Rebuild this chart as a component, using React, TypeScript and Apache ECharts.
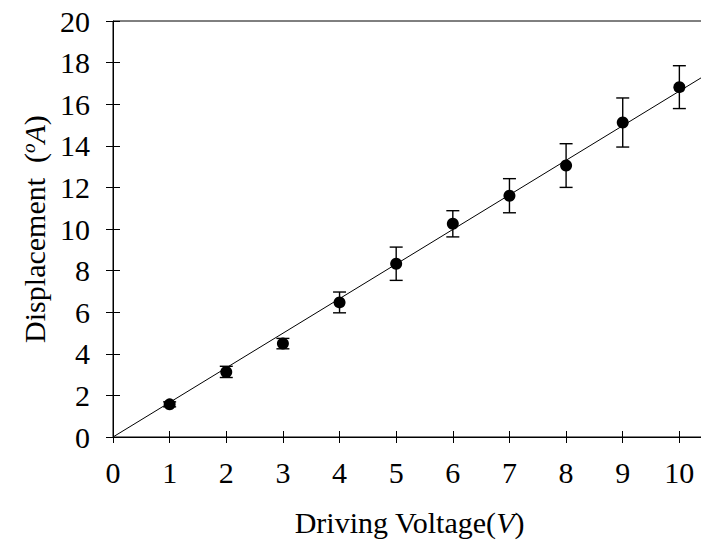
import React, { useEffect, useRef } from "react";
import * as echarts from "echarts";

const voltage = [1, 2, 3, 4, 5, 6, 7, 8, 9, 10];
const displacement = [1.57, 3.13, 4.49, 6.47, 8.33, 10.25, 11.6, 13.05, 15.12, 16.82];
const errorHalf = [0.12, 0.27, 0.25, 0.5, 0.8, 0.63, 0.82, 1.05, 1.18, 1.03];
const xTicks = [0, 1, 2, 3, 4, 5, 6, 7, 8, 9, 10];
const yTicks = [0, 2, 4, 6, 8, 10, 12, 14, 16, 18, 20];

const FONT = "Liberation Serif";
const X_MAX = 11;

export default function App() {
  const ref = useRef<HTMLDivElement>(null);

  useEffect(() => {
    if (!ref.current) return;
    const chart = echarts.init(ref.current, undefined, { renderer: "svg" });

    // least-squares fit through origin
    let sxy = 0, sxx = 0;
    voltage.forEach((x, i) => { sxy += x * displacement[i]; sxx += x * x; });
    const slope = sxy / sxx;
    const fitData = [[0, 0], [X_MAX, slope * X_MAX]];

    const scatterData = voltage.map((x, i) => [x, displacement[i]]);
    const errData = voltage.map((x, i) => [x, displacement[i] - errorHalf[i], displacement[i] + errorHalf[i]]);

    const xFmt = (v: number) => (xTicks.includes(v) ? String(v) : "");
    const yFmt = (v: number) => (yTicks.includes(v) ? String(v) : "");

    const baseX = { type: "value", min: 0, max: X_MAX, interval: 1, splitLine: { show: false } };
    const baseY = { type: "value", min: 0, max: 20, interval: 2, splitLine: { show: false } };

    chart.setOption({
      animation: false,
      textStyle: { fontFamily: FONT },
      grid: {
        left: 113,
        top: 21,
        height: 416,
        width: 623,
        outerBoundsMode: "none",
        containLabel: false,
        show: true,
        borderColor: "#000",
        borderWidth: 1,
        backgroundColor: "transparent",
      },
      xAxis: [
        {
          ...baseX,
          position: "bottom",
          axisLine: { show: true, onZero: false, lineStyle: { color: "#000", width: 1 } },
          axisTick: { show: true, inside: false, length: 6, lineStyle: { color: "#000" } },
          axisLabel: { show: true, formatter: xFmt, fontFamily: FONT, fontSize: 30, color: "#000", margin: 20 },
          name: "{n|Driving Voltage(}{i|V}{n|)}",
          nameLocation: "middle",
          nameGap: 70,
          nameTextStyle: {
            fontFamily: FONT,
            padding: [0, 30, 0, 0],
            rich: {
              n: { fontFamily: FONT, fontSize: 30, color: "#000" },
              i: { fontFamily: FONT, fontSize: 30, color: "#000", fontStyle: "italic" },
            },
          },
        },
        {
          ...baseX,
          position: "bottom",
          axisLine: { show: false, onZero: false },
          axisTick: { show: true, inside: true, length: 6, lineStyle: { color: "#000" } },
          axisLabel: { show: false },
        },
      ],
      yAxis: [
        {
          ...baseY,
          position: "left",
          axisLine: { show: true, onZero: false, lineStyle: { color: "#000", width: 1 } },
          axisTick: { show: true, inside: false, length: 7, lineStyle: { color: "#000" } },
          axisLabel: { show: true, formatter: yFmt, fontFamily: FONT, fontSize: 30, color: "#000", margin: 23 },
          name: "{n|Displacement  (}{s|o}{i|A}{n|)}",
          nameLocation: "middle",
          nameGap: 64,
          nameTextStyle: {
            fontFamily: FONT,
            rich: {
              n: { fontFamily: FONT, fontSize: 30, color: "#000" },
              s: { fontFamily: FONT, fontSize: 19, color: "#000", fontStyle: "italic", verticalAlign: "top" },
              i: { fontFamily: FONT, fontSize: 30, color: "#000", fontStyle: "italic" },
            },
          },
        },
        {
          ...baseY,
          position: "left",
          axisLine: { show: false, onZero: false },
          axisTick: { show: true, inside: true, length: 7, lineStyle: { color: "#000" } },
          axisLabel: { show: false },
        },
      ],
      series: [
        {
          type: "line",
          data: fitData,
          xAxisIndex: 0,
          yAxisIndex: 0,
          symbol: "none",
          lineStyle: { color: "#000", width: 1 },
          z: 1,
        },
        {
          type: "custom",
          xAxisIndex: 0,
          yAxisIndex: 0,
          data: errData,
          z: 2,
          renderItem: (params: any, api: any) => {
            const x = api.value(0);
            const lo = api.coord([x, api.value(1)]);
            const hi = api.coord([x, api.value(2)]);
            const w = 6.5;
            const style = { stroke: "#000", lineWidth: 1.4 };
            return {
              type: "group",
              children: [
                { type: "line", shape: { x1: hi[0], y1: hi[1], x2: lo[0], y2: lo[1] }, style },
                { type: "line", shape: { x1: hi[0] - w, y1: hi[1], x2: hi[0] + w, y2: hi[1] }, style },
                { type: "line", shape: { x1: lo[0] - w, y1: lo[1], x2: lo[0] + w, y2: lo[1] }, style },
              ],
            };
          },
        },
        {
          type: "scatter",
          xAxisIndex: 0,
          yAxisIndex: 0,
          data: scatterData,
          symbol: "circle",
          symbolSize: 12,
          itemStyle: { color: "#000", opacity: 1 },
          z: 3,
        },
      ],
    });

    return () => chart.dispose();
  }, []);

  return (
    <div
      ref={ref}
      style={{ position: "fixed", left: 0, top: 0, width: 701, height: 547, background: "#fff" }}
    />
  );
}
